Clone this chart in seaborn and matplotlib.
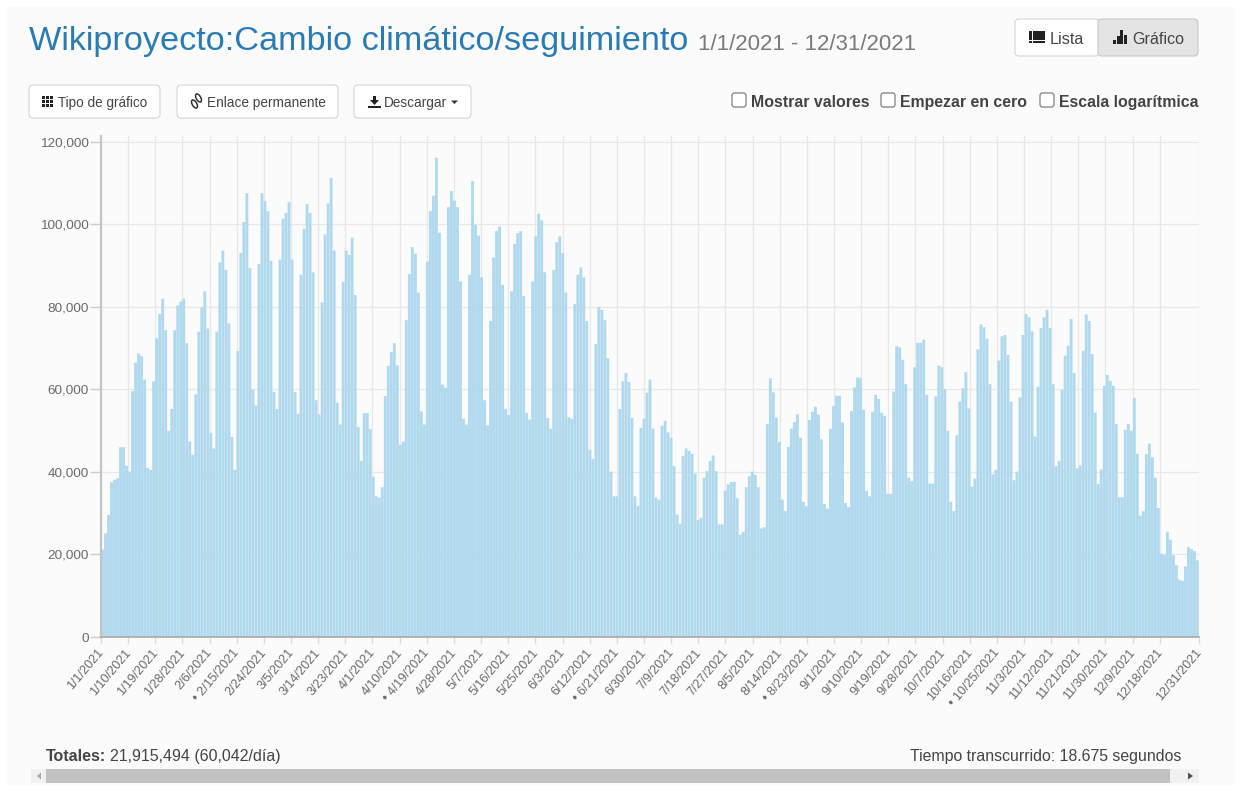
import matplotlib
matplotlib.use("Agg")
import matplotlib.pyplot as plt
import seaborn as sns
import pandas as pd
from matplotlib.patches import FancyBboxPatch, Rectangle, Ellipse, Polygon
from matplotlib.ticker import FuncFormatter
from matplotlib.transforms import ScaledTranslation

days = [d.strftime("%m/%d/%Y") for d in pd.date_range("2021-01-01", "2021-12-31")]

jan_mar = [21.2,25.1,29.6,37.5,38.1,38.5,46,46,41.5,40.1,59.6,66.5,68.7,68.1,62.4,41,40.5,62,72.4,78.3,82,74.4,50,55.3,74.4,80.4,81.3,82,71.2,47.4,44.2,
           58.8,74,79.9,83.8,74.8,49.5,45.7,74,90.8,93.7,89,76,48.5,40.5,69.3,93.1,100.6,107.6,89.4,60,56.1,90.4,107.6,105.7,103.2,91.2,59.4,55.3,
           91.5,101.4,102.8,105.4,91.5,59.4,54.1,87.8,98.9,105,102.8,88.4,57.4,53.9,81.1,97.6,105.1,111.3,93.7,56.8,51.5,86.1,93.7,92.6,96.8,82.9,50.9,42.7,54.3,54.3,50.4]
apr_jun = [38.8,34.1,33.8,36.3,58.4,65.7,69.1,71.2,65.9,46.6,47.4,76.8,88,94.5,92.9,83.5,54.7,51.5,91,103.2,107,116.2,98,61.2,60.4,104.2,108.1,105.8,104.2,86.2,
           52.9,51.5,87.8,110.5,99.9,97.3,87.2,57.4,51.3,76.6,92,98.4,99.5,85.4,55.3,53.8,83.8,95.3,97.9,98.4,82.7,54.3,52.7,86.2,97.1,102.6,101,88.4,53.1,50.5,89,
           95.7,97.1,93.1,83.5,53.3,52.9,80.7,87.8,89.6,87.2,76.6,45.4,43.2,71,80,79.3,76.8,67.6,40.1,34.1]
jul_sep = [34.1,55.3,62,64,61.8,53.1,34.1,31.8,50.7,52.9,59.2,62.4,50.5,33.8,33.3,51.2,52.4,49.6,48.3,41.4,29.7,27.5,43.9,45.7,45.1,44.4,39.6,28.3,28.9,38.6,40.2,
           42.7,44,40.2,27.3,27.3,35.5,37,37.6,37.6,33.6,24.8,25.5,36.3,39,40.1,39.3,36.3,26.3,26.6,51.6,62.7,59.3,53.2,47.3,33.3,30.5,46.1,50.5,52.1,54,48.3,
           32.8,31.7,52.6,54.6,55.8,53.9,47.9,32.3,31.1,50.5,56,58.5,58.5,52,32.5,31.5,54.8,60.5,62.9,62.8,55.1,35.4,34.1,54.6,58.7,57.7,54.4,53.6,34.7,34.7]
oct_dec = [59.5,70.5,70.2,67.2,61.3,38.6,37.8,65.4,71.3,71.3,72.1,58.7,37.2,37.2,58.3,65.8,65.4,60.1,50,32.8,30.5,48.9,57.1,60.3,64.2,55.4,36.4,38.4,69.7,75.8,75.1,
           72.3,61.3,39.4,40.5,67,72.9,73.2,68.4,57.1,38,40.1,58.1,73.2,78.3,77.5,74.1,48.6,60.7,74.9,77.5,79.3,74.9,61.3,41.4,42.7,59.9,68.2,70.6,77.1,64,40.9,41.6,
           69.4,78.2,76.6,68.6,54.4,37.1,40.6,60.9,63.5,62.1,60.9,51.6,33.9,33.9,50.2,51.6,50,57.9,44.4,29.4,30.5,44.3,46.9,43.6,38.6,31.3,20.2,20,25.5,23.6,19.8,17.4,13.9,13.6,17.1,21.8,21.3,20.8,18.6]
views = [round(v * 1000) for v in jan_mar + apr_jun + jul_sep + oct_dec]

tick_index = list(range(0, 352, 9)) + [364]
tick_labels = ["1/1/2021","1/10/2021","1/19/2021","1/28/2021","2/6/2021","• 2/15/2021","2/24/2021","3/5/2021","3/14/2021","3/23/2021",
               "4/1/2021","4/10/2021","• 4/19/2021","4/28/2021","5/7/2021","5/16/2021","5/25/2021","6/3/2021","6/12/2021","• 6/21/2021",
               "6/30/2021","7/9/2021","7/18/2021","7/27/2021","8/5/2021","8/14/2021","• 8/23/2021","9/1/2021","9/10/2021","9/19/2021",
               "9/28/2021","10/7/2021","10/16/2021","• 10/25/2021","11/3/2021","11/12/2021","11/21/2021","11/30/2021","12/9/2021","12/18/2021","12/31/2021"]
y_ticks = [0, 20000, 40000, 60000, 80000, 100000, 120000]

title_text = "Wikiproyecto:Cambio climático/seguimiento"
range_text = "1/1/2021 - 12/31/2021"
total_label = "Totales:"
total_value = "21,915,494 (60,042/día)"
elapsed = "Tiempo transcurrido: 18.675 segundos"

W, H = 1242, 792
sns.set_theme(style="white")
plt.rcParams["font.family"] = ["Liberation Sans", "DejaVu Sans"]
BG = "#fbfbfb"
fig = plt.figure(figsize=(W / 100, H / 100), dpi=100, facecolor="white")
fig.patches.append(Rectangle((7 / W, 7 / H), (W - 14) / W, (H - 14) / H, transform=fig.transFigure, facecolor=BG, edgecolor="none", zorder=-5))

ax = fig.add_axes([101 / W, (H - 637) / H, 1098 / W, 501 / H], facecolor="none")
df = pd.DataFrame({"day": days, "views": views})
sns.barplot(data=df, x="day", y="views", color="#b0d9ed", saturation=1, width=0.95, linewidth=0, ax=ax, zorder=3)
for bar in ax.patches:
    bar.set_snap(False)
ax.set_xlim(-0.5, 364.5)
ax.set_ylim(0, 121450)
ax.set_xlabel("")
ax.set_ylabel("")
ax.set_yticks(y_ticks)
ax.yaxis.set_major_formatter(FuncFormatter(lambda v, _: f"{int(v):,}"))
ax.set_xticks([i * 365 / 364 - 0.5 for i in tick_index])
ax.set_xticklabels(tick_labels, rotation=50, ha="right", va="top", rotation_mode="anchor")
ax.grid(True, color="#e8e8e8", linewidth=0.9, zorder=0)
ax.set_axisbelow(True)
ax.tick_params(axis="x", length=5, width=1, color="#dddddd", labelsize=9.1, labelcolor="#6a6a6a", pad=2, bottom=True)
ax.tick_params(axis="y", length=8, width=1, color="#cccccc", labelsize=9.7, labelcolor="#6a6a6a", pad=1, left=True)
shift = ScaledTranslation(-4 / 100, 0, fig.dpi_scale_trans)
for lab in ax.get_xticklabels():
    lab.set_transform(lab.get_transform() + shift)
for s in ("top", "right"):
    ax.spines[s].set_visible(False)
ax.spines["left"].set_color("#c4c4c4")
ax.spines["left"].set_linewidth(1.6)
ax.spines["bottom"].set_color("#a8a8a8")
ax.spines["bottom"].set_linewidth(1.2)
ax.spines["left"].set_zorder(5)
ax.spines["bottom"].set_zorder(5)

ui = fig.add_axes([0, 0, 1, 1], facecolor="none")
ui.set_xlim(0, W)
ui.set_ylim(H, 0)
ui.axis("off")
TXT = "#444444"

def box(x0, y0, x1, y1, fc="white", ec="#d4d4d4"):
    ui.add_patch(FancyBboxPatch((x0 + 3, y0 + 3), x1 - x0 - 6, y1 - y0 - 6, boxstyle="round,pad=3,rounding_size=4",
                                facecolor=fc, edgecolor=ec, linewidth=0.8))

def rect(x, y, w, h, c="#222222"):
    ui.add_patch(Rectangle((x, y), w, h, facecolor=c, edgecolor="none"))

ui.text(29, 50, title_text, color="#2b7bb3", fontsize=24.65, va="baseline", ha="left")
ui.text(698, 50, range_text, color="#7a7a7a", fontsize=16.0, va="baseline", ha="left")

# view toggle
box(1015, 19, 1099, 56)
box(1098, 19, 1198, 56, fc="#e4e4e4", ec="#c8c8c8")
for k in range(4):
    rect(1029, 31 + k * 3.2, 3, 2.6)
    rect(1033, 31 + k * 3.2, 12, 2.6)
ui.text(1050, 44, "Lista", color=TXT, fontsize=11.6, va="baseline")
for bx, bh in zip([1113, 1116.5, 1120, 1124], [4, 8, 14, 9]):
    rect(bx, 44 - bh, 3.2, bh)
ui.text(1132, 44, "Gráfico", color=TXT, fontsize=11.6, va="baseline")

# buttons
box(29, 85, 160, 118)
for r in range(3):
    for c in range(3):
        rect(42 + c * 4, 96 + r * 3.8, 3.2, 3)
ui.text(58, 107, "Tipo de gráfico", color=TXT, fontsize=9.76, va="baseline")
box(177, 85, 338, 118)
for cx, cy in [(198.5, 98), (194.5, 104)]:
    ui.add_patch(Ellipse((cx, cy), 4.5, 9, angle=-30, facecolor="none", edgecolor="#333333", linewidth=1.1))
ui.text(207, 107, "Enlace permanente", color=TXT, fontsize=9.8, va="baseline")
box(354, 85, 471, 118)
rect(373, 96, 3, 5)
ui.add_patch(Polygon([[370, 100], [379, 100], [374.5, 105]], facecolor="#222222", edgecolor="none"))
rect(368, 105.5, 13, 2.5)
ui.text(384, 107, "Descargar", color=TXT, fontsize=9.8, va="baseline")
ui.add_patch(Polygon([[451, 100.5], [458, 100.5], [454.5, 104]], facecolor="#333333", edgecolor="none"))

# checkboxes
for cbx, tx, label in [(732, 751, "Mostrar valores"), (881, 900, "Empezar en cero"), (1040, 1059, "Escala logarítmica")]:
    ui.add_patch(FancyBboxPatch((cbx + 2, 95), 10, 10, boxstyle="round,pad=2,rounding_size=2.5", facecolor="white", edgecolor="#808080", linewidth=0.9))
    ui.text(tx, 107, label, color=TXT, fontsize=11.4, fontweight="bold", va="baseline")

# footer
ui.text(46, 761, total_label, color=TXT, fontsize=11.5, fontweight="bold", va="baseline")
ui.text(110, 761, total_value, color=TXT, fontsize=11.5, va="baseline")
ui.text(1181, 761, elapsed, color=TXT, fontsize=11.45, va="baseline", ha="right")

rect(31, 769, 1168, 14, "#f1f1f1")
rect(46, 769, 1124, 14, "#c1c1c1")
ui.add_patch(Polygon([[41, 772.5], [41, 779.5], [37, 776]], facecolor="#a8a8a8", edgecolor="none"))
ui.add_patch(Polygon([[1188, 772.5], [1188, 779.5], [1193, 776]], facecolor="#505050", edgecolor="none"))

fig.savefig("out.png", dpi=100, facecolor=fig.get_facecolor())
